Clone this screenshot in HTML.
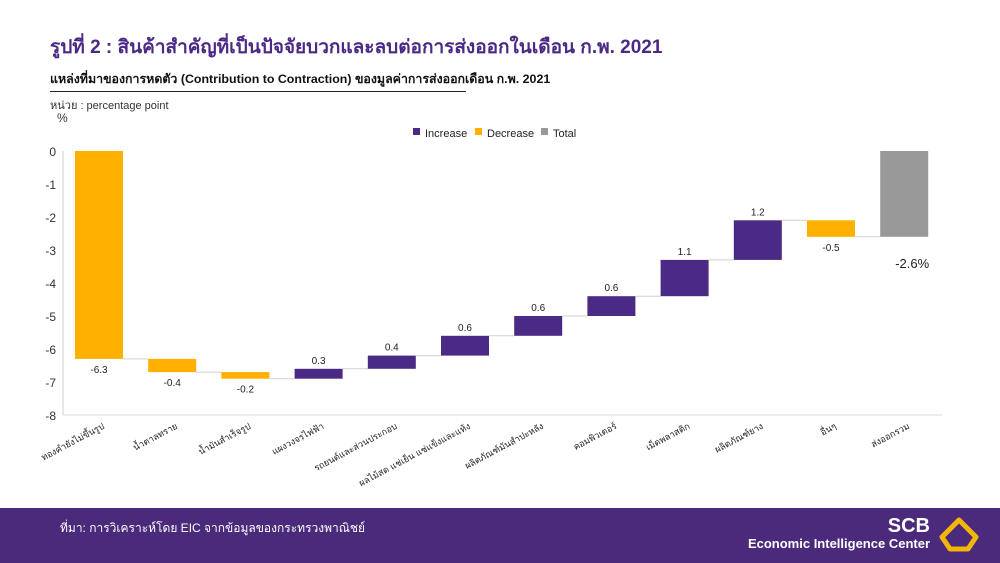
<!DOCTYPE html>
<html><head><meta charset="utf-8"><style>
body{margin:0;width:1000px;height:563px;background:#fff;position:relative;overflow:hidden;font-family:"Liberation Sans","Noto Sans CJK SC",sans-serif}
.abs{position:absolute}
</style></head><body>
<div class="abs" style="left:50px;top:32px;font-size:19px;font-weight:bold;color:#4b2a85;white-space:nowrap">รูปที่ 2 : สินค้าสำคัญที่เป็นปัจจัยบวกและลบต่อการส่งออกในเดือน ก.พ. 2021</div>
<div class="abs" style="left:50px;top:70px;font-size:12.4px;font-weight:bold;color:#111;white-space:nowrap">แหล่งที่มาของการหดตัว (Contribution to Contraction) ของมูลค่าการส่งออกเดือน ก.พ. 2021</div>
<div class="abs" style="left:50px;top:91px;width:416px;height:1px;background:#222"></div>
<div class="abs" style="left:50px;top:96px;font-size:11px;color:#333">หน่วย : percentage point</div>
<div class="abs" style="left:57px;top:111px;font-size:12px;color:#333">%</div>
<svg class="abs" style="left:0;top:0" width="1000" height="508" id="chart"></svg>
<div class="abs" style="left:0;top:508px;width:1000px;height:55px;background:#4b2a7b"></div>
<div class="abs" style="left:60px;top:519px;font-size:12px;color:#fff">ที่มา: การวิเคราะห์โดย EIC จากข้อมูลของกระทรวงพาณิชย์</div>
<div class="abs" style="left:728px;top:516px;width:202px;text-align:right;color:#fff;font-weight:bold">
<div style="font-size:20px;line-height:20px">SCB</div><div style="font-size:13px;line-height:16px;white-space:nowrap">Economic Intelligence Center</div></div>
<svg class="abs" style="left:938px;top:517px" width="42" height="36"><path d="M21 3 L38 20 L30 32 L12 32 L4 20 Z" fill="none" stroke="#f2b705" stroke-width="5" stroke-linejoin="round"/></svg>
<script>
const categories=["ทองคำยังไม่ขึ้นรูป","น้ำตาลทราย","น้ำมันสำเร็จรูป","แผงวงจรไฟฟ้า","รถยนต์และส่วนประกอบ","ผลไม้สด แช่เย็น แช่แข็งและแห้ง","ผลิตภัณฑ์มันสำปะหลัง","คอมพิวเตอร์","เม็ดพลาสติก","ผลิตภัณฑ์ยาง","อื่นๆ","ส่งออกรวม"];
const values=[-6.3,-0.4,-0.2,0.3,0.4,0.6,0.6,0.6,1.1,1.2,-0.5,-2.6];
const isTotal=[false,false,false,false,false,false,false,false,false,false,false,true];
const yTicks=[0,-1,-2,-3,-4,-5,-6,-7,-8];
const svg=document.getElementById('chart');
const NS='http://www.w3.org/2000/svg';
const y=v=>151-v*33;
const x=i=>99+i*73.2;
const bw=48;
function mk(t,a){const e=document.createElementNS(NS,t);for(const k in a)e.setAttribute(k,a[k]);svg.appendChild(e);return e;}
let l=mk('line',{x1:63,y1:151,x2:63,y2:415,stroke:'#d0d0d0'});

l=mk('line',{x1:63,y1:415,x2:942,y2:415,stroke:'#d9d9d9'});

yTicks.forEach(t=>{const e=mk('text',{x:56,y:y(t)+5,'text-anchor':'end','font-size':12,fill:'#333'});e.textContent=t;
});
let cum=0;
values.forEach((v,i)=>{
 let top,bot,col,end;
 if(isTotal[i]){top=0;bot=v;col='#999';end=v;}
 else{const s=cum;end=cum+v;top=Math.max(s,end);bot=Math.min(s,end);col=v>0?'#4b2a85':'#ffb000';}
 const r=mk('rect',{x:x(i)-bw/2,y:y(top),width:bw,height:y(bot)-y(top),fill:col});
 
 if(i<values.length-1){const c=mk('line',{x1:x(i)+bw/2,y1:y(end),x2:x(i+1)-bw/2,y2:y(end),stroke:'#d0d0d0'});
 }
 let t;
 if(isTotal[i]){t=mk('text',{x:x(i)+8,y:y(v)+31,'text-anchor':'middle','font-size':13,fill:'#222'});t.textContent=v.toFixed(1)+'%';}
 else if(v>0){t=mk('text',{x:x(i),y:y(top)-5,'text-anchor':'middle','font-size':10,fill:'#222'});t.textContent=v.toFixed(1);}
 else{t=mk('text',{x:x(i),y:y(bot)+14,'text-anchor':'middle','font-size':10,fill:'#222'});t.textContent=v.toFixed(1);}
 
 const cl=mk('text',{x:x(i)+6,y:428,'text-anchor':'end','font-size':9,fill:'#222',transform:`rotate(-28 ${x(i)+6} 428)`});
 cl.textContent=categories[i];
 
 if(!isTotal[i])cum=end;
});
const legend=[["Increase","#4b2a85",413],["Decrease","#ffb000",475],["Total","#999",541]];
legend.forEach(d=>{const r=mk('rect',{x:d[2],y:128,width:7,height:7,fill:d[1]});

const t=mk('text',{x:d[2]+12,y:137,'font-size':11,fill:'#222'});t.textContent=d[0];
});
</script>
</body></html>
